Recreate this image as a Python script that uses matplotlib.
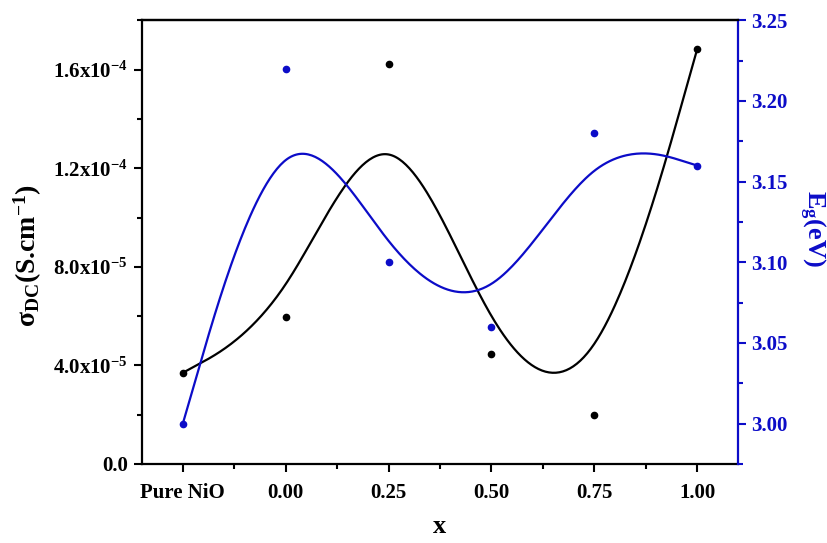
import matplotlib.pyplot as plt
import numpy as np
from matplotlib.ticker import FixedLocator, MultipleLocator

# values
categories = ["Pure NiO", "0.00", "0.25", "0.50", "0.75", "1.00"]
sigma_dc = [3.70e-5, 5.96e-5, 1.623e-4, 4.46e-5, 1.99e-5, 1.682e-4]
band_gap = [3.000, 3.220, 3.100, 3.060, 3.180, 3.160]

left_ticks = [0.0, 4e-5, 8e-5, 1.2e-4, 1.6e-4]
left_labels = ["0.0", r"4.0x10$^{-5}$", r"8.0x10$^{-5}$", r"1.2x10$^{-4}$", r"1.6x10$^{-4}$"]
right_ticks = [3.00, 3.05, 3.10, 3.15, 3.20, 3.25]

BLUE = "#0c0cc8"

plt.rcParams["font.family"] = ["Liberation Serif", "DejaVu Serif"]
plt.rcParams["font.weight"] = "bold"
plt.rcParams["axes.labelweight"] = "bold"
plt.rcParams["mathtext.default"] = "regular"


def bspline(xs, ys, n=60):
    """Uniform cubic B-spline, end points tripled so the curve hits them."""
    ctrl = np.column_stack([xs, ys]).astype(float)
    ctrl = np.vstack([ctrl[:1], ctrl[:1], ctrl, ctrl[-1:], ctrl[-1:]])
    t = np.linspace(0, 1, n)
    b0 = (1 - t) ** 3 / 6
    b1 = (3 * t ** 3 - 6 * t ** 2 + 4) / 6
    b2 = (-3 * t ** 3 + 3 * t ** 2 + 3 * t + 1) / 6
    b3 = t ** 3 / 6
    segs = []
    for i in range(len(ctrl) - 3):
        p = ctrl[i:i + 4]
        segs.append(np.outer(b0, p[0]) + np.outer(b1, p[1])
                    + np.outer(b2, p[2]) + np.outer(b3, p[3]))
    pts = np.vstack(segs)
    return pts[:, 0], pts[:, 1]


xpos = np.arange(len(categories))

fig = plt.figure(figsize=(8.27, 5.43), dpi=100)
ax = fig.add_axes([0.1713, 0.1455, 0.7214, 0.8171])
ax2 = ax.twinx()

bx, by = bspline(xpos, sigma_dc)
ax.plot(bx, by, color="black", lw=1.6)
ax.plot(xpos, sigma_dc, "o", color="black", ms=4.5)

gx, gy = bspline(xpos, band_gap)
ax2.plot(gx, gy, color=BLUE, lw=1.6)
ax2.plot(xpos, band_gap, "o", color=BLUE, ms=4.5)

ax.set_xlim(-0.4, 5.4)
ax.set_ylim(0, 1.8e-4)
ax2.set_ylim(2.975, 3.25)

ax.set_xticks(xpos)
ax.set_xticklabels(categories)
ax.xaxis.set_minor_locator(FixedLocator(xpos[:-1] + 0.5))
ax.set_yticks(left_ticks)
ax.set_yticklabels(left_labels)
ax.yaxis.set_minor_locator(MultipleLocator(2e-5))
ax2.set_yticks(right_ticks)
ax2.set_yticklabels([f"{v:.2f}" for v in right_ticks])
ax2.yaxis.set_minor_locator(MultipleLocator(0.025))

for a in (ax, ax2):
    for s in a.spines.values():
        s.set_linewidth(1.6)
ax.spines["right"].set_visible(False)
ax2.spines["right"].set_color(BLUE)
ax2.spines["left"].set_visible(False)
ax2.spines["bottom"].set_visible(False)

ax.tick_params(axis="both", which="major", direction="out", length=6, width=1.5,
               labelsize=15, pad=4)
ax.tick_params(axis="both", which="minor", direction="out", length=3.5, width=1.5)
ax.tick_params(axis="x", which="major", pad=8)
ax2.tick_params(axis="y", which="major", direction="out", length=6, width=1.5,
                labelsize=15, colors=BLUE, pad=3)
ax2.tick_params(axis="y", which="minor", direction="out", length=3.5, width=1.5,
                colors=BLUE)

ax.set_xlabel("x", fontsize=19, va="baseline")
ax.xaxis.set_label_coords(0.5, -0.155)
ax.set_ylabel(r"$\sigma_{DC}$(S.cm$^{-1}$)", fontsize=20, va="center", ha="center")
ax.yaxis.set_label_coords(-0.19, 0.47)
ax2.set_ylabel(r"E$_{g}$(eV)", fontsize=19, color=BLUE, rotation=270,
               va="center", ha="center")
ax2.yaxis.set_label_coords(1.124, 0.53)

fig.savefig("out.png", dpi=100, facecolor="white")
